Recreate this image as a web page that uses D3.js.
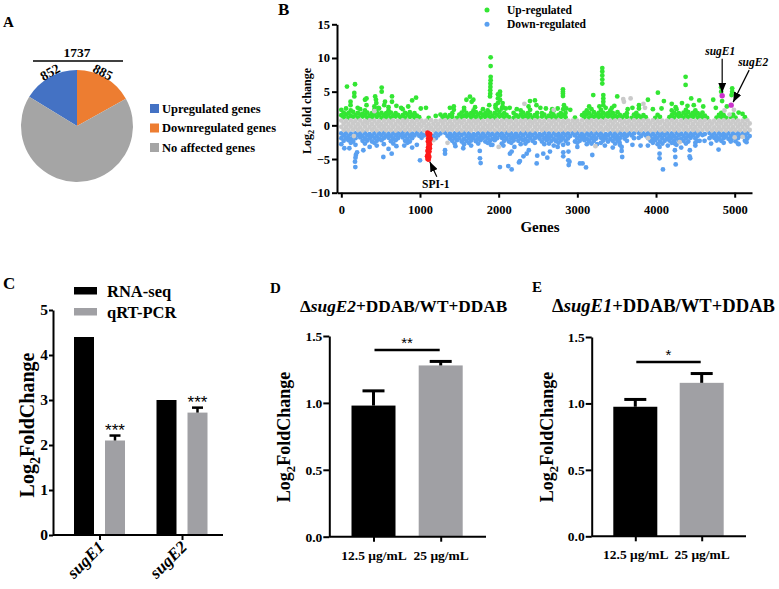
<!DOCTYPE html>
<html>
<head>
<meta charset="utf-8">
<script src="https://cdn.jsdelivr.net/npm/d3@7/dist/d3.min.js"></script>
<style>
  body { margin: 0; background: #fff; }
  svg text { font-family: "Liberation Serif", "Times New Roman", serif; font-weight: bold; }
</style>
</head>
<body>
<svg id="fig" width="779" height="589"></svg>
<script>
// ---------- data ----------
// A: pie
var pieCats = ["Upregulated genes", "Downregulated genes", "No affected genes"];
var pieCounts = [852, 885, 3500];
var pieColors = ["#4472c4", "#ed7d31", "#a5a5a5"];

// B: manhattan-like scatter, gene index vs log2 fold change
var yTicksB = [-10, -5, 0, 5, 10, 15];
var xTicksB = [0, 1000, 2000, 3000, 4000, 5000];
var stride = 60; // band rows: one value per 60 genes
var grayTop = [0.7,0.65,0.75,0.68,0.72,0.66,0.74,0.7,0.63,0.71,
  0.69,0.75,0.66,0.72,0.7,0.64,0.73,0.68,0.71,0.76,
  0.67,0.7,0.74,0.65,0.72,0.69,0.75,0.66,0.71,0.7,
  0.64,0.73,0.68,0.72,0.7,0.75,0.66,0.71,0.69,0.74,
  0.65,0.72,0.7,0.67,0.73,0.69,0.75,0.64,0.71,0.7,
  0.68,0.74,0.66,0.72,0.7,0.65,0.73,0.69,0.71,0.76,
  0.67,0.7,0.74,0.66,0.72,0.68,0.75,0.65,0.71,0.7,
  0.73,0.66,0.72,0.69,0.74,0.67,0.7,0.75,0.64,0.71,
  0.69,0.73,0.66,0.72,0.7,0.68,0.74];
var grayUp = [0.25,0.2,0.28,0.18,0.24,0.3,0.21,0.26,0.17,0.23,
  0.27,0.2,0.25,0.29,0.19,0.24,0.22,0.28,0.18,0.25,
  0.21,0.27,0.23,0.19,0.26,0.3,0.2,0.24,0.28,0.22,
  0.18,0.25,0.21,0.27,0.23,0.29,0.19,0.24,0.26,0.2,
  0.28,0.22,0.25,0.18,0.27,0.21,0.24,0.3,0.2,0.26,
  0.23,0.19,0.28,0.22,0.25,0.27,0.2,0.24,0.18,0.26,
  0.29,0.21,0.25,0.23,0.19,0.27,0.22,0.28,0.2,0.24,
  0.26,0.18,0.25,0.3,0.21,0.23,0.27,0.19,0.25,0.22,
  0.28,0.2,0.24,0.26,0.21,0.23,0.27];
var grayDown = [-0.22,-0.27,-0.19,-0.25,-0.3,-0.2,-0.24,-0.28,-0.18,-0.23,
  -0.26,-0.21,-0.29,-0.2,-0.25,-0.22,-0.27,-0.18,-0.24,-0.3,
  -0.21,-0.26,-0.23,-0.28,-0.19,-0.25,-0.22,-0.27,-0.2,-0.24,
  -0.29,-0.21,-0.26,-0.18,-0.25,-0.23,-0.28,-0.2,-0.24,-0.27,
  -0.19,-0.25,-0.22,-0.3,-0.21,-0.26,-0.23,-0.18,-0.27,-0.24,
  -0.2,-0.28,-0.22,-0.25,-0.19,-0.26,-0.29,-0.21,-0.24,-0.23,
  -0.27,-0.2,-0.25,-0.18,-0.28,-0.22,-0.26,-0.24,-0.3,-0.21,
  -0.23,-0.27,-0.19,-0.25,-0.22,-0.28,-0.2,-0.26,-0.24,-0.29,
  -0.21,-0.25,-0.23,-0.27,-0.2,-0.24,-0.22];
var grayBottom = [-0.68,-0.73,-0.65,-0.71,-0.76,-0.66,-0.7,-0.74,-0.64,-0.72,
  -0.69,-0.75,-0.67,-0.71,-0.73,-0.65,-0.7,-0.76,-0.68,-0.72,
  -0.66,-0.74,-0.7,-0.64,-0.71,-0.75,-0.69,-0.73,-0.67,-0.7,
  -0.72,-0.65,-0.74,-0.68,-0.71,-0.76,-0.66,-0.7,-0.73,-0.69,
  -0.75,-0.67,-0.72,-0.64,-0.7,-0.74,-0.68,-0.71,-0.66,-0.73,
  -0.7,-0.76,-0.65,-0.72,-0.69,-0.74,-0.67,-0.71,-0.75,-0.68,
  -0.73,-0.66,-0.7,-0.72,-0.64,-0.74,-0.69,-0.71,-0.76,-0.67,
  -0.7,-0.73,-0.65,-0.72,-0.68,-0.75,-0.7,-0.66,-0.74,-0.71,
  -0.69,-0.73,-0.67,-0.72,-0.7,-0.75,-0.68];
var upRow1 = [1.2,1.1,1.25,1.15,1.3,1.1,1.2,1.25,1.1,1.2,
  1.15,1.3,1.2,1.1,1.25,1.15,1.2,null,1.1,null,
  null,1.2,1.15,1.25,1.1,1.2,1.3,1.15,1.2,1.1,
  1.25,1.2,1.1,1.3,1.15,1.2,1.1,1.25,1.2,1.15,
  1.1,1.2,1.3,1.15,1.2,1.1,1.25,1.2,null,1.15,
  null,1.2,1.1,1.25,1.2,1.15,1.3,1.1,1.2,1.15,
  1.25,1.1,1.2,1.15,1.2,null,1.1,1.25,null,1.2,
  1.15,1.3,1.1,1.2,1.25,1.15,1.2,1.1,null,1.15,
  1.2,1.1,1.25,1.15,null,1.2,null];
var upRow2 = [1.5,1.6,1.45,1.55,1.6,1.5,1.45,1.6,1.55,1.5,
  1.6,1.45,1.55,1.5,1.6,1.5,1.45,null,null,null,
  null,null,1.55,1.5,null,1.6,1.45,1.55,1.5,1.6,
  1.5,1.55,1.45,1.6,1.5,1.55,null,1.5,1.6,1.45,
  1.55,1.5,null,1.6,1.45,1.5,1.55,1.5,null,null,
  null,1.5,1.6,1.45,1.55,1.5,1.6,1.5,1.45,1.55,
  1.5,null,1.6,1.45,1.5,null,null,1.55,null,null,
  1.5,1.6,1.45,1.55,1.5,1.6,1.5,1.45,null,null,
  1.55,1.5,null,1.6,null,null,null];
var upRow3 = [1.9,1.8,2.0,1.85,1.75,1.9,1.8,1.95,1.85,1.8,
  1.9,1.8,null,1.85,1.95,1.8,null,null,null,null,
  null,null,null,1.8,null,1.9,1.85,1.8,1.95,1.85,
  1.8,1.9,1.85,2.0,1.8,null,1.85,null,1.9,1.8,
  null,1.85,1.8,null,1.9,null,1.8,1.85,null,null,
  null,1.85,1.8,1.95,1.85,1.9,1.8,1.85,1.95,null,
  1.8,null,1.85,null,null,null,null,null,null,null,
  1.85,1.8,1.9,1.95,1.85,1.8,1.9,null,null,null,
  1.85,null,null,null,null,null,null];
var upRow4 = [2.3,null,2.2,null,2.4,2.2,null,2.3,2.5,null,
  2.2,null,null,2.4,null,null,null,null,null,null,
  null,null,null,null,null,null,2.3,null,2.2,null,
  2.4,2.2,null,2.3,2.5,null,null,null,2.2,null,
  2.3,null,null,null,null,2.2,null,2.4,null,null,
  null,null,2.2,2.4,null,2.3,null,2.2,null,null,
  null,null,null,null,null,null,null,null,null,null,
  2.2,2.4,null,2.3,null,2.2,null,null,null,null,
  null,null,null,null,null,null,null];
var downRow1 = [-1.2,-1.1,-1.25,-1.15,-1.2,-1.1,-1.3,-1.15,-1.2,-1.1,
  -1.25,-1.15,-1.2,-1.1,-1.2,-1.25,-1.1,-1.2,null,null,
  -1.15,-1.2,-1.1,-1.25,-1.2,-1.15,-1.1,-1.2,-1.3,-1.15,
  -1.2,-1.1,-1.25,-1.15,-1.2,-1.1,-1.2,-1.25,-1.15,-1.1,
  -1.2,-1.15,-1.3,-1.1,-1.2,-1.15,-1.25,-1.1,-1.2,-1.15,
  -1.1,-1.25,-1.2,-1.15,-1.1,-1.2,-1.3,-1.15,-1.2,-1.1,
  -1.25,-1.15,-1.2,-1.1,-1.2,-1.15,-1.25,-1.1,-1.2,-1.15,
  -1.2,-1.1,-1.25,-1.15,-1.2,-1.1,-1.2,-1.3,-1.15,-1.2,
  -1.1,-1.25,-1.15,-1.2,-1.1,-1.2,-1.15];
var downRow2 = [-1.5,-1.6,-1.55,-1.45,-1.6,-1.5,-1.55,-1.65,-1.5,-1.55,
  -1.6,-1.5,-1.45,-1.55,-1.6,-1.5,-1.55,-1.5,null,-1.6,
  -1.5,null,-1.55,-1.6,-1.5,-1.45,-1.55,-1.6,-1.5,-1.55,
  -1.6,-1.5,-1.55,-1.45,-1.6,-1.5,-1.55,-1.6,-1.5,-1.55,
  -1.45,-1.6,-1.5,-1.55,-1.6,-1.5,-1.55,-1.45,-1.6,-1.5,
  -1.55,-1.6,-1.5,-1.55,-1.45,-1.6,-1.5,-1.55,-1.6,-1.5,
  -1.55,-1.5,null,-1.6,-1.5,-1.55,-1.6,-1.5,-1.45,-1.55,
  -1.6,-1.5,-1.55,-1.6,-1.5,-1.55,-1.45,null,-1.55,-1.6,
  -1.5,-1.55,-1.6,-1.5,-1.55,-1.5,-1.6];
var downRow3 = [-1.9,-1.85,-2.0,-1.9,-1.8,-1.95,-1.9,-1.85,-2.0,-1.9,
  -1.85,-1.95,-1.9,-1.8,-2.0,-1.9,null,-1.85,null,null,
  -1.9,null,null,-1.95,-1.85,-1.9,-2.0,-1.85,-1.9,-1.95,
  -1.85,-1.9,-2.0,-1.9,-1.85,-1.95,-1.9,-1.8,-1.9,-2.0,
  -1.85,-1.9,-1.95,-1.9,-1.85,-2.0,-1.9,-1.85,-1.95,null,
  -1.9,-1.85,-2.0,-1.9,-1.95,-1.85,-1.9,-2.0,-1.85,-1.9,
  -1.95,null,-1.9,-1.85,null,-1.9,-2.0,-1.85,-1.9,-1.95,
  -1.85,-1.9,-2.0,-1.9,-1.85,-1.95,null,null,-1.9,-1.85,
  -1.95,-1.9,-2.0,-1.85,-1.9,null,-1.95];
var downRow4 = [-2.3,-2.2,-2.4,null,-2.3,-2.25,-2.4,-2.3,-2.2,null,
  -2.35,-2.2,null,-2.3,-2.4,null,null,null,null,null,
  null,null,null,-2.3,-2.2,-2.4,-2.3,-2.25,-2.35,-2.2,
  -2.4,-2.3,-2.2,null,-2.3,-2.4,-2.25,-2.3,-2.2,-2.35,
  -2.3,null,-2.4,-2.2,-2.3,-2.35,-2.25,-2.3,null,-2.4,
  -2.3,-2.2,-2.35,-2.3,null,-2.25,-2.4,-2.3,-2.2,null,
  -2.3,null,null,null,null,-2.3,-2.2,-2.4,-2.3,-2.25,
  -2.35,-2.2,-2.3,-2.4,null,-2.3,null,null,null,-2.25,
  -2.3,null,-2.2,-2.35,null,-2.3,null];
var downRow5 = [-2.8,null,-2.6,-2.9,null,-2.7,null,-2.6,null,-2.8,
  null,-2.7,null,null,-2.6,null,null,null,null,null,
  null,null,null,null,-2.7,null,-2.8,-2.6,null,-2.7,
  null,-2.6,-2.9,null,-2.7,null,-2.6,null,-2.8,-2.7,
  null,-2.6,null,-2.8,-2.7,null,-2.6,-2.9,-2.7,null,
  -2.6,null,-2.8,-2.7,null,-2.6,null,null,-2.7,-2.9,
  null,null,null,null,null,null,-2.6,-2.8,-2.7,null,
  -2.6,-2.9,null,-2.7,null,-2.6,null,null,null,null,
  null,-2.6,null,null,-2.7,null,null];
// scattered genes outside the bands, [gene index, log2FC]
var upGenes = [[72,5.75],[174,6.1],[165,4.8],[165,4.3],[117,3.5],[117,3.0],[60,2.5],[208,2.6],
  [301,3.8],[320,4.0],[320,3.0],[430,4.3],[440,3.8],[445,3.3],[420,2.8],[470,2.6],[513,5.6],[513,5.0],
  [555,3.5],[545,3.0],[600,2.7],[644,4.3],[644,3.5],[700,2.9],[760,2.6],[850,2.8],[900,3.7],[950,4.1],
  [1010,2.5],[1076,2.6],[1200,1.4],[1260,1.6],[1380,2.6],[1430,2.8],[1430,2.3],[1590,3.8],[1635,4.25],
  [1678,3.8],[1657,3.5],[1700,2.7],[1560,2.6],[1898,10.1],[1898,8.8],[1898,7.2],[1898,6.7],[1895,6.2],
  [1895,5.7],[1893,5.2],[1893,4.7],[1890,4.3],[1880,3.0],[1960,3.0],[1960,2.6],[1990,4.6],[1990,4.0],
  [1990,3.3],[2017,5.0],[2017,4.5],[2017,3.8],[2050,3.3],[2050,2.8],[2090,2.5],[2140,2.6],[2230,2.4],
  [2380,2.8],[2398,3.6],[2461,3.7],[2480,3.0],[2530,2.6],[2600,2.5],[2680,2.4],[2750,2.5],[2817,5.35],
  [2817,5.0],[2817,4.7],[2817,4.35],[2830,3.0],[2860,2.5],[2910,2.3],[3150,2.8],[3202,4.5],[3280,2.8],
  [3317,8.5],[3317,8.0],[3317,7.4],[3317,6.8],[3317,6.2],[3330,4.5],[3330,4.0],[3330,3.5],[3330,3.0],
  [3360,2.6],[3440,2.6],[3470,2.9],[3507,4.3],[3640,2.4],[3700,2.6],[3783,3.0],[3783,2.5],[3897,3.8],
  [3960,2.4],[4024,4.85],[4070,2.5],[4100,3.6],[4200,3.2],[4250,2.7],[4330,3.3],[4376,7.2],[4376,6.0],
  [4400,2.9],[4447,4.0],[4480,3.0],[4550,3.7],[4600,2.8],[4727,3.8],[4760,2.6],[4828,5.65],[4828,5.0],
  [4840,3.6],[4900,2.8],[4968,5.5],[4968,5.0],[4960,4.5],[5050,1.9],[5100,1.7]];
var downGenes = [[38,-3.4],[102,-3.4],[174,-5.4],[178,-6.2],[185,-4.4],[180,-4.8],[200,-4.0],[280,-3.7],
  [360,-3.2],[450,-3.0],[534,-4.7],[600,-3.5],[640,-4.2],[700,-3.1],[800,-3.0],[900,-3.3],[1000,-5.2],
  [960,-2.9],[1318,-3.7],[1318,-4.2],[1450,-3.1],[1550,-3.4],[1650,-3.0],[1760,-3.8],[1762,-4.9],
  [1771,-5.6],[1900,-2.9],[2016,-6.2],[2060,-3.0],[2122,-6.05],[2143,-4.2],[2165,-3.9],[2165,-6.55],
  [2200,-3.2],[2258,-5.5],[2270,-5.3],[2315,-4.6],[2356,-4.2],[2383,-3.7],[2483,-5.65],[2490,-4.5],
  [2567,-4.2],[2618,-4.8],[2652,-3.9],[2700,-3.0],[2750,-3.2],[2821,-4.0],[2821,-4.6],[2885,-5.2],
  [2887,-3.9],[2890,-5.9],[2900,-5.4],[3000,-3.2],[3033,-5.65],[3066,-5.65],[3110,-6.25],[3190,-4.4],
  [3250,-2.8],[3350,-3.0],[3450,-3.3],[3535,-2.5],[3563,-3.2],[3563,-3.8],[3570,-4.7],[3700,-2.9],
  [3804,-3.0],[3897,-3.0],[4045,-3.2],[4045,-4.2],[4045,-4.9],[4088,-6.55],[4150,-3.0],[4240,-2.7],
  [4240,-3.7],[4245,-4.7],[4250,-5.8],[4320,-3.3],[4427,-4.6],[4435,-4.9],[4430,-3.7],[4500,-3.0],
  [4554,-2.3],[4617,-2.3],[4700,-2.7],[4795,-3.6],[4950,-2.4],[5050,-2.8],[5150,-2.5]];
var otherGenes = [[2327,3.2],[3592,3.5],[3583,3.9],[3677,4.0],[3840,3.2],[3860,2.6],[4870,2.2],[4935,1.6],
  [4990,2.3],[1350,-2.6],[2000,-3.2],[1170,-2.2],[3230,-3.1],[4300,-2.5],[5000,-1.8],[5100,-1.7],
  [420,2.1],[2700,2.3],[160,-1.6],[3900,-1.9]];
var spi1Genes = [[1095,-1.1],[1100,-1.4],[1110,-1.2],[1120,-1.6],[1105,-1.9],[1115,-2.1],[1125,-1.8],
  [1100,-2.4],[1112,-2.6],[1122,-2.3],[1108,-2.9],[1118,-3.1],[1128,-2.8],[1102,-3.3],[1115,-3.5],
  [1125,-3.4],[1095,-3.8],[1108,-4.0],[1120,-3.9],[1100,-4.3],[1112,-4.5],[1090,-4.6],[1105,-4.8],
  [1118,-4.7],[1095,-5.0],[1110,-5.1],[1130,-1.3],[1135,-2.0]];
var sugNames = ["sugE1", "sugE2"];
var sugGene = [4841, 4955];
var sugLfc = [4.4, 3.0];

// C: RNA-seq vs qRT-PCR
var cGenes = ["sugE1", "sugE2"];
var cSeries = ["RNA-seq", "qRT-PCR"];
var rnaSeq = [4.4, 3.0];
var qpcr = [2.1, 2.72];
var qpcrErr = [0.11, 0.11];
var cTicks = [0, 1, 2, 3, 4, 5];

// D / E: two concentrations
var concs = ["12.5 μg/mL", "25 μg/mL"];
var dMeans = [0.98, 1.28];
var dErr = [0.11, 0.03];
var eMeans = [0.975, 1.155];
var eErr = [0.055, 0.07];
var deTicks = [0, 0.5, 1.0, 1.5];

// ---------- drawing ----------
var svg = d3.select("#fig");
var GRAY_BAR = "#a0a0a4";
var SANS = "'Liberation Sans', Arial, sans-serif";

function styleAxis(g, fs) {
  g.attr("font-size", fs).attr("font-family", null);
  g.select(".domain").attr("stroke-width", 2);
  g.selectAll(".tick line").attr("stroke-width", 2);
  g.selectAll(".tick text").attr("fill", "#000");
}

function yLabel(x, y, size, parts) {
  var t = svg.append("text").attr("transform", "translate(" + x + "," + y + ") rotate(-90)")
    .attr("text-anchor", "middle").attr("font-size", size);
  t.append("tspan").text(parts[0]);
  t.append("tspan").attr("font-size", size * 0.7).attr("dy", size * 0.28).text("2");
  t.append("tspan").attr("dy", -size * 0.28).text(parts[1]);
}

function panelLetter(ch, x, y, size) {
  svg.append("text").attr("x", x).attr("y", y).attr("font-size", size).text(ch);
}

var defs = svg.append("defs");
defs.append("marker").attr("id", "arrow").attr("viewBox", "0 0 10 8")
  .attr("refX", 10).attr("refY", 4).attr("markerWidth", 10).attr("markerHeight", 8)
  .attr("markerUnits", "userSpaceOnUse").attr("orient", "auto")
  .append("path").attr("d", "M0,0L10,4L0,8Z").attr("fill", "#000");

// ----- A -----
panelLetter("A", 3, 27, 15);
var total = d3.sum(pieCounts);
var a0 = -2 * Math.PI * pieCounts[0] / total;
var pie = d3.pie().sort(null).startAngle(a0).endAngle(a0 + 2 * Math.PI);
var arc = d3.arc().innerRadius(0).outerRadius(56);
var gA = svg.append("g").attr("transform", "translate(77,126)");
gA.selectAll("path").data(pie(pieCounts)).join("path")
  .attr("d", arc).attr("fill", function (d, i) { return pieColors[i]; });
svg.append("line").attr("x1", 33).attr("x2", 123).attr("y1", 61).attr("y2", 61)
  .attr("stroke", "#000").attr("stroke-width", 1.5);
svg.append("text").attr("x", 77).attr("y", 57).attr("text-anchor", "middle")
  .attr("font-size", 13.5).text(pieCounts[0] + pieCounts[1]);
svg.append("text").attr("transform", "translate(50,72) rotate(-30)").attr("text-anchor", "middle")
  .attr("dy", "0.35em").attr("font-size", 13.5).text(pieCounts[0]);
svg.append("text").attr("transform", "translate(103,72) rotate(28)").attr("text-anchor", "middle")
  .attr("dy", "0.35em").attr("font-size", 13.5).text(pieCounts[1]);
var legA = svg.append("g").selectAll("g").data(pieCats).join("g")
  .attr("transform", function (d, i) { return "translate(150," + (104 + i * 19.5) + ")"; });
legA.append("rect").attr("width", 9).attr("height", 9).attr("fill", function (d, i) { return pieColors[i]; });
legA.append("text").attr("x", 12).attr("y", 8.5).attr("font-size", 12.5).text(function (d) { return d; });

// ----- B -----
panelLetter("B", 278, 15, 17);
var xB = d3.scaleLinear().domain([-55, 5220]).range([337, 752]);
var yB = d3.scaleLinear().domain([-10, 15]).range([192.7, 24.3]);
var gB = svg.append("g");

function rowPoints(vals, start) {
  return vals.map(function (v, i) { return [start + stride * i, v]; })
    .filter(function (d) { return d[1] !== null; });
}
function dots(data, color, r) {
  gB.append("g").selectAll("circle").data(data).join("circle")
    .attr("cx", function (d) { return xB(d[0]); })
    .attr("cy", function (d) { return yB(d[1]); })
    .attr("r", r).attr("fill", color);
}
var GREEN = "#33e633", BLUE = "#5aa0f0", LGRAY = "#cacaca";
var R = 2.4;
dots(rowPoints(upRow1, 30), GREEN, R);
dots(rowPoints(upRow2, 0), GREEN, R);
dots(rowPoints(upRow3, 30), GREEN, R);
dots(rowPoints(upRow4, 0), GREEN, R);
dots(upGenes, GREEN, R);
dots(rowPoints(downRow1, 0), BLUE, R);
dots(rowPoints(downRow2, 30), BLUE, R);
dots(rowPoints(downRow3, 0), BLUE, R);
dots(rowPoints(downRow4, 30), BLUE, R);
dots(rowPoints(downRow5, 0), BLUE, R);
dots(downGenes, BLUE, R);
dots(rowPoints(grayTop, 0), LGRAY, R);
dots(rowPoints(grayUp, 30), LGRAY, R);
dots(rowPoints(grayDown, 0), LGRAY, R);
dots(rowPoints(grayBottom, 30), LGRAY, R);
dots(otherGenes, LGRAY, R);
dots(spi1Genes, "#ff1a1a", R);
dots(sugGene.map(function (g, i) { return [g, sugLfc[i]]; }), "#cc33cc", 2.7);

var axYB = gB.append("g").attr("transform", "translate(337,0)")
  .call(d3.axisLeft(yB).tickValues(yTicksB).tickSize(5).tickSizeOuter(0).tickPadding(2));
styleAxis(axYB, 12.5);
var axXB = gB.append("g").attr("transform", "translate(0," + yB(-10) + ")")
  .call(d3.axisBottom(xB).tickValues(xTicksB).tickFormat(d3.format("d")).tickSize(5).tickSizeOuter(0).tickPadding(7));
styleAxis(axXB, 12.5);
svg.append("text").attr("x", 540).attr("y", 232).attr("text-anchor", "middle")
  .attr("font-size", 15).text("Genes");
yLabel(311, 111, 12, ["Log", " fold change"]);

// legend B
[["Up-regulated", GREEN], ["Down-regulated", BLUE]].forEach(function (d, i) {
  svg.append("circle").attr("cx", 487).attr("cy", 10 + i * 14.3).attr("r", 2.5).attr("fill", d[1]);
  svg.append("text").attr("x", 507).attr("y", 14 + i * 14.3).attr("font-size", 11.5).text(d[0]);
});

// annotations B
var spiTip = [xB(1112) + 1, yB(-5.1) + 2];
gB.append("line").attr("x1", spiTip[0] + 7).attr("y1", spiTip[1] + 15)
  .attr("x2", spiTip[0]).attr("y2", spiTip[1])
  .attr("stroke", "#000").attr("stroke-width", 1.2).attr("marker-end", "url(#arrow)");
svg.append("text").attr("x", spiTip[0] + 6).attr("y", spiTip[1] + 26).attr("text-anchor", "middle")
  .attr("font-size", 11.5).text("SPI-1");
var sugOff = [[0, -34, -2, -38], [16, -32, 20, -36]];
sugNames.forEach(function (n, i) {
  var tx = xB(sugGene[i]) + (i ? 2 : 0), ty = yB(sugLfc[i]) - 3;
  gB.append("line").attr("x1", tx + sugOff[i][0]).attr("y1", ty + sugOff[i][1])
    .attr("x2", tx).attr("y2", ty)
    .attr("stroke", "#000").attr("stroke-width", 1.2).attr("marker-end", "url(#arrow)");
  svg.append("text").attr("x", tx + sugOff[i][2]).attr("y", ty + sugOff[i][3])
    .attr("text-anchor", "middle").attr("font-size", 11.5).attr("font-style", "italic").text(n);
});

// ----- C -----
panelLetter("C", 3, 289, 17);
var xC = d3.scalePoint().domain(cGenes).range([99.5, 182]);
var xCs = d3.scaleBand().domain(cSeries).range([-25.5, 25.5]).paddingInner(0.355);
var yC = d3.scaleLinear().domain([0, 5]).range([535, 310]);
var gC = svg.append("g");
var cVals = [rnaSeq, qpcr];
var cCols = ["#000", GRAY_BAR];
cSeries.forEach(function (s, si) {
  gC.append("g").selectAll("rect").data(cGenes).join("rect")
    .attr("x", function (g) { return xC(g) + xCs(s); })
    .attr("width", xCs.bandwidth())
    .attr("y", function (g, i) { return yC(cVals[si][i]); })
    .attr("height", function (g, i) { return yC(0) - yC(cVals[si][i]); })
    .attr("fill", cCols[si]);
});
cGenes.forEach(function (g, i) {
  var cx = xC(g) + xCs("qRT-PCR") + xCs.bandwidth() / 2;
  var top = yC(qpcr[i] + qpcrErr[i]);
  gC.append("line").attr("x1", cx).attr("x2", cx).attr("y1", yC(qpcr[i])).attr("y2", top)
    .attr("stroke", "#000").attr("stroke-width", 2.5);
  gC.append("line").attr("x1", cx - 5.5).attr("x2", cx + 5.5).attr("y1", top).attr("y2", top)
    .attr("stroke", "#000").attr("stroke-width", 2.5);
  gC.append("text").attr("x", cx).attr("y", top).attr("text-anchor", "middle")
    .style("font-family", SANS).style("font-weight", "normal")
    .attr("font-size", 17).text("***");
});
var axYC = gC.append("g").attr("transform", "translate(53,0)")
  .call(d3.axisLeft(yC).tickValues(cTicks).tickFormat(d3.format("d")).tickSize(4).tickSizeOuter(0).tickPadding(1));
styleAxis(axYC, 15.5);
gC.append("line").attr("x1", 53).attr("x2", 223).attr("y1", yC(0)).attr("y2", yC(0))
  .attr("stroke", "#000").attr("stroke-width", 2);
var axXC = gC.append("g").attr("transform", "translate(0," + yC(0) + ")")
  .call(d3.axisBottom(xC).tickSize(5).tickSizeOuter(0).tickFormat(""));
axXC.select(".domain").remove();
axXC.selectAll(".tick line").attr("stroke-width", 2);
cGenes.forEach(function (g) {
  svg.append("text").attr("transform", "translate(" + (xC(g) + 6) + "," + (yC(0) + 13) + ") rotate(-45)")
    .attr("text-anchor", "end").attr("font-size", 17).attr("font-style", "italic").text(g);
});
yLabel(34, 425, 20, ["Log", "FoldChange"]);
cSeries.forEach(function (s, i) {
  svg.append("rect").attr("x", 74).attr("y", 287 + i * 21).attr("width", 23).attr("height", 7.5).attr("fill", cCols[i]);
  svg.append("text").attr("x", 107).attr("y", 297 + i * 21).attr("font-size", 16.5).text(s);
});

// ----- D and E -----
function concPanel(o) {
  panelLetter(o.letter, o.letterX, o.letterY, 15);
  var x = d3.scalePoint().domain(concs).range(o.ticks);
  var y = d3.scaleLinear().domain([0, 1.5]).range(o.yRange);
  var g = svg.append("g");
  var bw = 44;
  g.selectAll("rect").data(concs).join("rect")
    .attr("x", function (c) { return x(c) - bw / 2; })
    .attr("width", bw)
    .attr("y", function (c, i) { return y(o.means[i]); })
    .attr("height", function (c, i) { return y(0) - y(o.means[i]); })
    .attr("fill", function (c, i) { return i ? GRAY_BAR : "#000"; });
  concs.forEach(function (c, i) {
    var top = y(o.means[i] + o.errs[i]);
    g.append("line").attr("x1", x(c)).attr("x2", x(c)).attr("y1", y(o.means[i])).attr("y2", top)
      .attr("stroke", "#000").attr("stroke-width", 3);
    g.append("line").attr("x1", x(c) - 11).attr("x2", x(c) + 11).attr("y1", top).attr("y2", top)
      .attr("stroke", "#000").attr("stroke-width", 3);
  });
  var sigY = y(d3.max(o.means.map(function (m, i) { return m + o.errs[i]; }))) - 11.5;
  g.append("line").attr("x1", x(concs[0]) + 1).attr("x2", x(concs[1]) - 1).attr("y1", sigY).attr("y2", sigY)
    .attr("stroke", "#000").attr("stroke-width", 2.5);
  g.append("text").attr("x", (x(concs[0]) + x(concs[1])) / 2).attr("y", sigY - 2)
    .attr("text-anchor", "middle").attr("font-size", 15)
    .style("font-family", SANS).style("font-weight", "normal")
    .text(o.stars);
  var ay = g.append("g").attr("transform", "translate(" + o.axisX + ",0)")
    .call(d3.axisLeft(y).tickValues(deTicks).tickFormat(d3.format(".1f")).tickSize(6).tickSizeOuter(0).tickPadding(1));
  styleAxis(ay, 13.5);
  g.append("line").attr("x1", o.axisX).attr("x2", o.axisEnd).attr("y1", y(0)).attr("y2", y(0))
    .attr("stroke", "#000").attr("stroke-width", 2);
  var ax = g.append("g").attr("transform", "translate(0," + y(0) + ")")
    .call(d3.axisBottom(x).tickSize(5).tickSizeOuter(0).tickPadding(8));
  ax.select(".domain").remove();
  styleAxis(ax, 13.5);
  ax.selectAll(".tick text").attr("dy", "0.75em");
  yLabel(o.axisX - 39, 437, 18, ["Log", "FoldChange"]);
  var t = svg.append("text").attr("x", o.titleX).attr("y", 312).attr("font-size", o.titleSize);
  t.append("tspan").text("Δ");
  t.append("tspan").attr("font-style", "italic").text(o.mutant);
  t.append("tspan").text("+DDAB/WT+DDAB");
}

concPanel({ letter: "D", letterX: 270, letterY: 293, ticks: [373.5, 440.7], yRange: [536.7, 336],
  means: dMeans, errs: dErr, stars: "**", axisX: 329.3, axisEnd: 486,
  titleX: 300, titleSize: 17.3, mutant: "sugE2" });
concPanel({ letter: "E", letterX: 532, letterY: 292, ticks: [635.3, 701.7], yRange: [536.3, 337],
  means: eMeans, errs: eErr, stars: "*", axisX: 591.7, axisEnd: 746,
  titleX: 552, titleSize: 18.6, mutant: "sugE1" });
</script>
</body>
</html>
